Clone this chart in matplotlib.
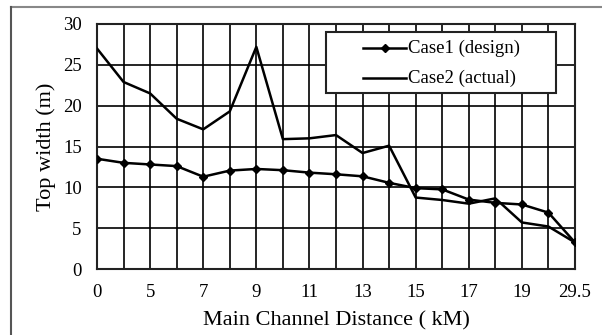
import matplotlib
matplotlib.use("Agg")
import matplotlib.pyplot as plt
from matplotlib.lines import Line2D
from matplotlib.patches import Rectangle

x_labels = ["0", "", "5", "", "7", "", "9", "", "11", "", "13", "", "15", "", "17", "", "19", "", "29.5"]
case1 = [13.5, 13.0, 12.8, 12.6, 11.3, 12.05, 12.25, 12.1, 11.8, 11.6, 11.35, 10.55, 9.9, 9.75, 8.5, 8.1, 7.9, 6.9, 3.25]
case2 = [27.0, 22.9, 21.5, 18.4, 17.1, 19.3, 27.2, 15.9, 16.0, 16.4, 14.2, 15.1, 8.75, 8.45, 8.0, 8.65, 5.7, 5.2, 3.25]
y_ticks = [0, 5, 10, 15, 20, 25, 30]
series_names = ['Case1 (design)', 'Case2 (actual)']

plt.rcParams['font.family'] = ['Liberation Serif', 'DejaVu Serif']

W, H = 602, 335
fig = plt.figure(figsize=(W/100, H/100), dpi=100)
L, R, T, B = 97, 575, 24, 269
ax = fig.add_axes([L/W, (H-B)/H, (R-L)/W, (B-T)/H])

xs = list(range(len(x_labels)))
ax.plot(xs, case2, color='black', lw=1.8, zorder=3)
ax.plot(xs, case1, color='black', lw=1.8, marker='D', ms=4.5, zorder=4)

ax.set_xlim(0, len(x_labels) - 1)
ax.set_ylim(0, 30)
ax.set_xticks(xs)
ax.set_xticklabels(x_labels)
ax.set_yticks(y_ticks)
ax.tick_params(length=0, labelsize=13.5, pad=11)
ax.grid(True, color='black', lw=1.2)
ax.set_axisbelow(True)
for s in ax.spines.values():
    s.set_linewidth(1.5)
    s.set_color('#222222')

ax.set_xlabel('Main Channel Distance ( kM)', fontsize=16, labelpad=7)
ax.set_ylabel('Top width (m)', fontsize=16, labelpad=5)

# legend drawn manually in axes-fraction coordinates
def fx(px):
    return (px - L) / (R - L)

def fy(py):
    return (B - py) / (B - T)

ax.add_patch(Rectangle((fx(326), fy(93)), fx(556) - fx(326), fy(32) - fy(93),
                       transform=ax.transAxes, facecolor='white', edgecolor='#222222',
                       lw=1.5, zorder=10, clip_on=False))
rows = [fy(48), fy(78)]
ax.add_line(Line2D([fx(363), fx(406)], [rows[0], rows[0]], color='black', lw=1.8,
                   transform=ax.transAxes, zorder=11))
ax.add_line(Line2D([fx(384.5)], [rows[0]], color='black', marker='D', ms=4.5, lw=0,
                   transform=ax.transAxes, zorder=12))
ax.add_line(Line2D([fx(363), fx(406)], [rows[1], rows[1]], color='black', lw=1.8,
                   transform=ax.transAxes, zorder=11))
for yy, name in zip(rows, series_names):
    ax.text(fx(408), yy, name, transform=ax.transAxes, fontsize=13.5,
            va='center', ha='left', zorder=12)

fig.add_artist(Line2D([11/W, 1.0], [1-7/H, 1-7/H], color='#888888', lw=1.5, transform=fig.transFigure))
fig.add_artist(Line2D([11/W, 11/W], [1-7/H, 0.0], color='#555555', lw=1.5, transform=fig.transFigure))

fig.savefig('out.png', dpi=100)
